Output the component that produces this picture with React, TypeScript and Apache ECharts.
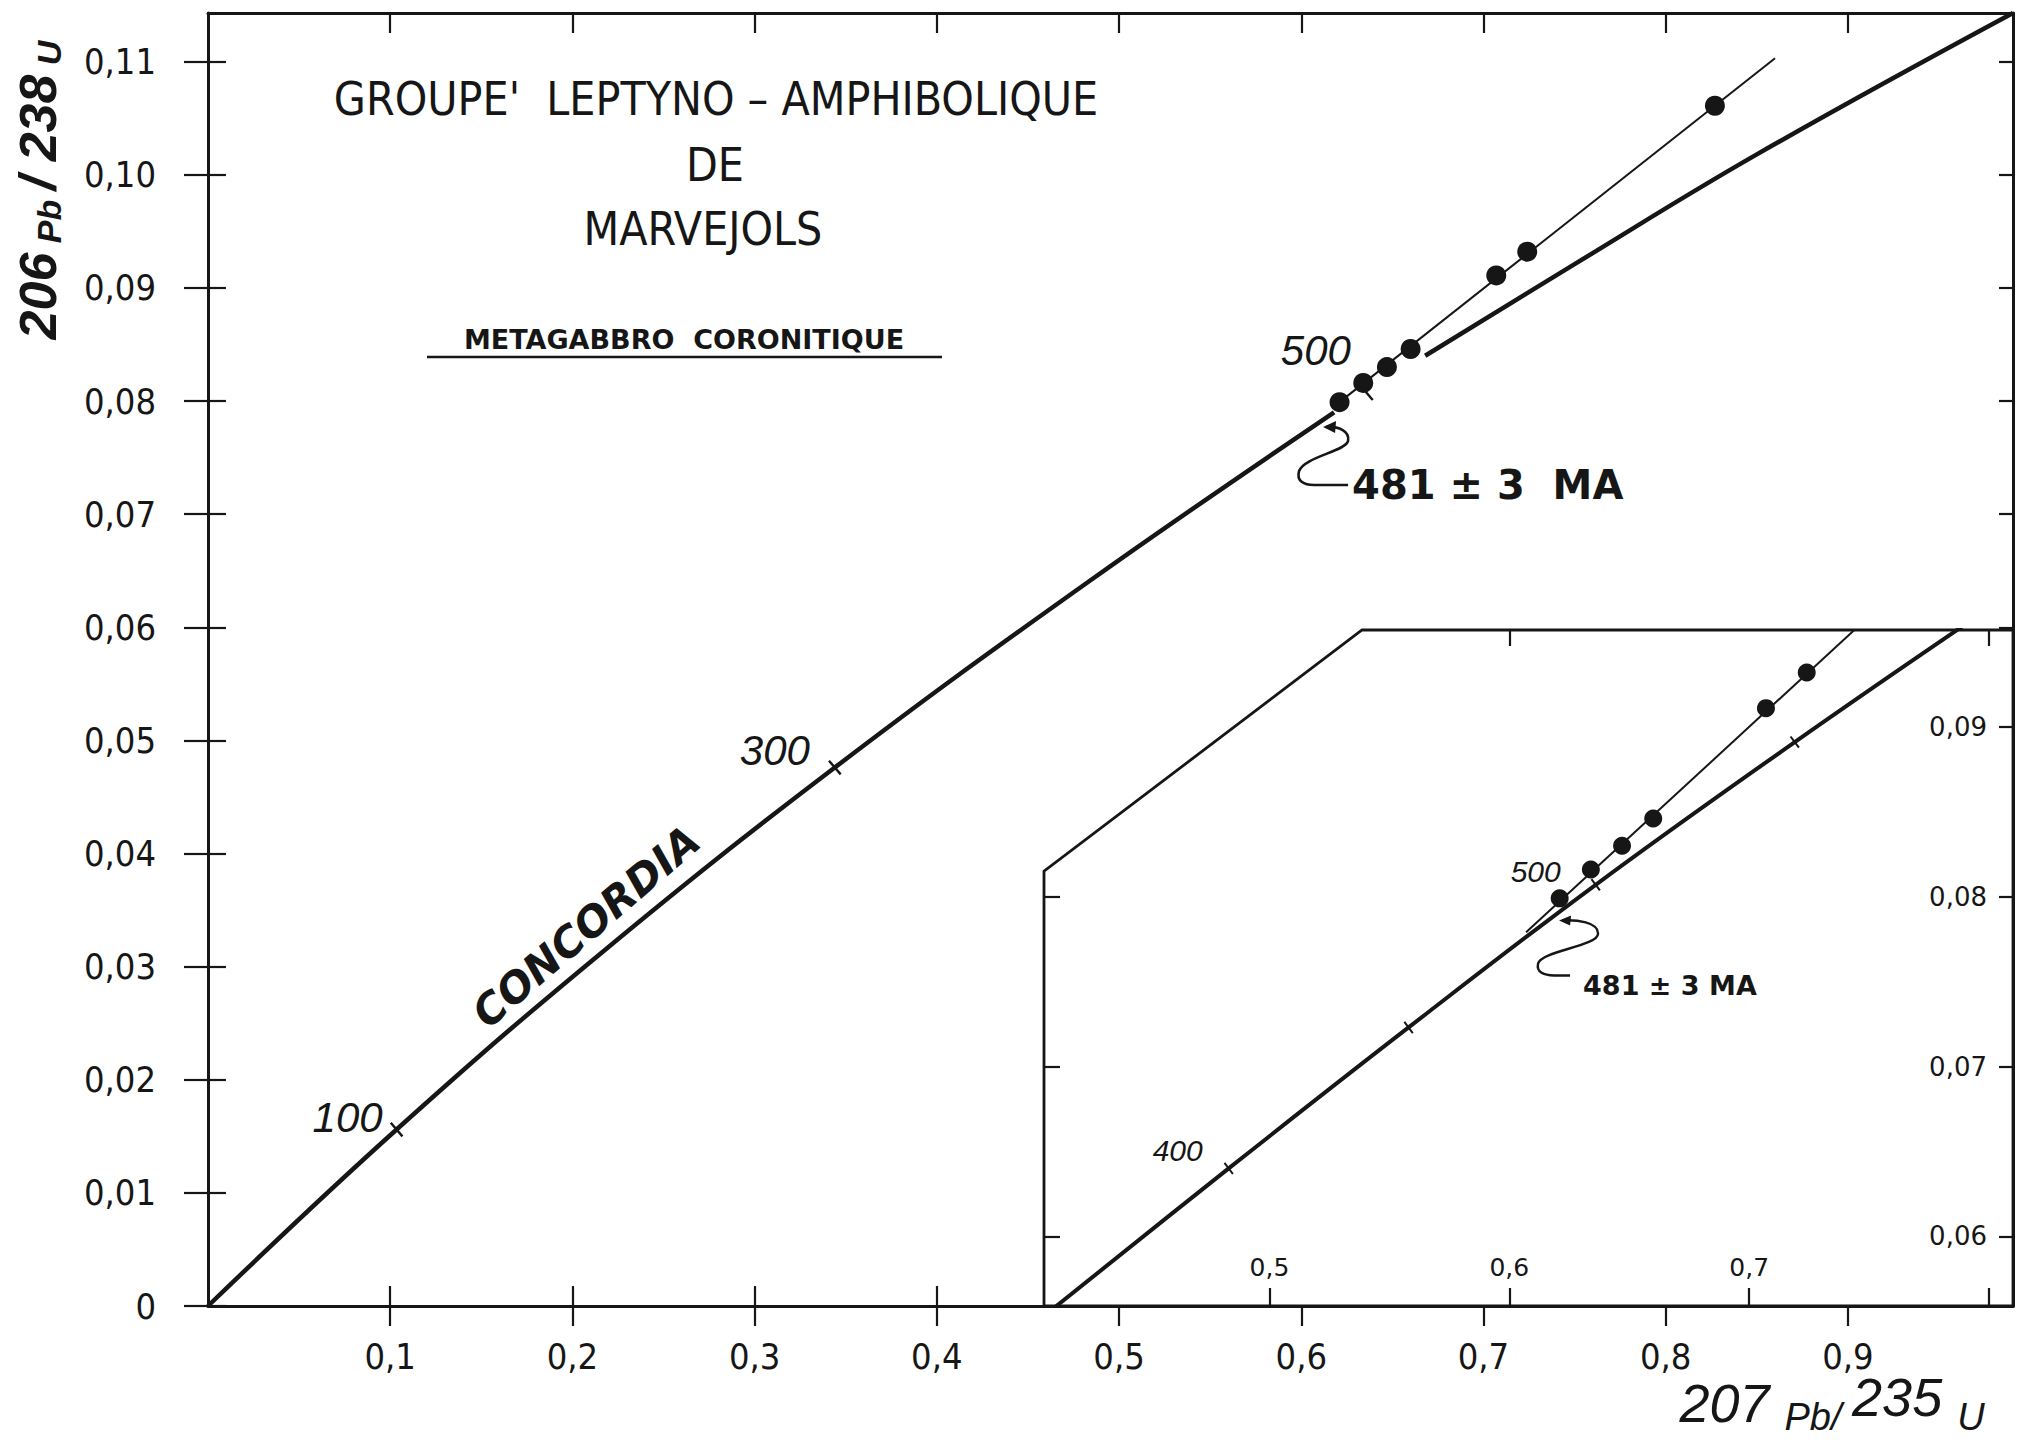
import React, { useEffect, useRef } from "react";
import * as echarts from "echarts";

// ---------- data ----------
const mainXTicks = [0.1, 0.2, 0.3, 0.4, 0.5, 0.6, 0.7, 0.8, 0.9];
const mainYTicks = [0, 0.01, 0.02, 0.03, 0.04, 0.05, 0.06, 0.07, 0.08, 0.09, 0.1, 0.11];
const insetXTicks = [0.5, 0.6, 0.7, 0.8];
const insetXLabels = [0.5, 0.6, 0.7];
const insetTopTicks = [0.6, 0.8];
const insetYTicks = [0.06, 0.07, 0.08, 0.09];
const insetLeftTicks = [0.06, 0.07, 0.08];

// analysed fractions (207Pb/235U, 206Pb/238U)
const samplePb207U235 = [0.621, 0.634, 0.647, 0.66, 0.707, 0.724, 0.827];
const samplePb206U238 = [0.0799, 0.0816, 0.083, 0.0846, 0.0911, 0.0932, 0.1061];

// concordia curve as drawn (lower part, then upper part past the gap)
const concordiaLowX = [0, 0.1035, 0.218, 0.344, 0.483, 0.618];
const concordiaLowY = [0, 0.0156, 0.0315, 0.0476, 0.064, 0.079];
const concordiaHighX = [0.668, 0.75, 0.85, 0.9906];
const concordiaHighY = [0.084, 0.0921, 0.1018, 0.1143];
// discordia in main plot
const discordiaX = [0.621, 0.86];
const discordiaY = [0.0799, 0.1103];
// age marks on the main concordia
const mainAges = ["100", "300", "500"];
const mainAgeX = [0.1035, 0.344, 0.636];
const mainAgeY = [0.0156, 0.0476, 0.0807];

// inset (enlargement)
const insetConcordiaX = [0.405, 0.483, 0.558, 0.636, 0.719, 0.795];
const insetConcordiaY = [0.0552, 0.064, 0.0723, 0.0807, 0.0891, 0.0965];
const insetDiscordiaX = [0.607, 0.75];
const insetDiscordiaY = [0.0779, 0.0965];
const insetAges = ["400", "", "500", ""];
const insetAgeX = [0.483, 0.558, 0.636, 0.719];
const insetAgeY = [0.064, 0.0723, 0.0807, 0.0891];

const interceptLabel = "481 ± 3  MA";

// ---------- axis extents ----------
const MAIN_X = [0, 0.9906];
const MAIN_Y = [0, 0.1143];
const INSET_X = [0.406, 0.81];
const INSET_Y = [0.0559, 0.0957];
// inset frame outline (cut corner) in inset data units
const frameX = [INSET_X[0], INSET_X[0], 0.5386, INSET_X[1], INSET_X[1]];
const frameY = [INSET_Y[0], 0.0815, INSET_Y[1], INSET_Y[1], INSET_Y[0]];

// annotation anchors (data units)
const arrowMainAt = [0.6136, 0.0777];
const arrowInsetAt = [0.622, 0.0786];
const concordiaWordAt = [0.218, 0.0315];

// ---------- styles ----------
const INK = "#161616";
const NARROW = "'Liberation Sans Narrow', 'DejaVu Sans Condensed', sans-serif";
const SANS = "'Liberation Sans', Arial, sans-serif";
const DEJAVU = "'DejaVu Sans', sans-serif";
const mainAgeOffsets = [[-49, -12], [-60, -17], [-51, -43]];
const insetAgeOffsets = [[-51, -18], [0, 0], [-60, -13], [0, 0]];

const fmtX = (v: number) => (v === 0 ? "0" : v.toFixed(1).replace(".", ","));
const fmtY = (v: number) => (v === 0 ? "0" : v.toFixed(2).replace(".", ","));

const zip = (xs: number[], ys: number[]) => xs.map((x, i) => [x, ys[i]]);

echarts.graphic.registerShape(
  "curlyMain",
  echarts.graphic.extendPath(
    "M0,0 C12,-1 24,4 22,14 C20,24 -22,30 -27,44 C-30,54 -22,58 -12,58 L22,58",
    {}
  )
);
echarts.graphic.registerShape(
  "curlyInset",
  echarts.graphic.extendPath(
    "M0,0 C15,-1 36,2 36,13 C36,26 -20,30 -24,43 C-26,52 -18,55 -8,55 L8,55",
    {}
  )
);

export default function App() {
  const ref = useRef<HTMLDivElement>(null);

  useEffect(() => {
    if (!ref.current) return;
    const chart = echarts.init(ref.current, null, { renderer: "svg" });

    const line = { lineStyle: { color: INK, width: 3 }, onZero: false };
    const tickStyle = { color: INK, width: 2.2 };
    const noSplit = { show: false };
    const dot = { color: INK, opacity: 1 };

    const option: any = {
      animation: false,
      backgroundColor: "#ffffff",
      grid: [
        { left: 208, top: 13, width: 1805, height: 1293 },
        { left: 1044, top: 630, width: 969, height: 676 },
      ],
      xAxis: [
        {
          gridIndex: 0, type: "value", min: MAIN_X[0], max: MAIN_X[1], position: "bottom",
          axisLine: { show: true, ...line },
          axisTick: { show: true, inside: false, length: 20, customValues: mainXTicks, lineStyle: tickStyle },
          axisLabel: { show: true, customValues: mainXTicks, formatter: fmtX, margin: 32, fontSize: 36, fontFamily: NARROW, color: INK },
          splitLine: noSplit,
        },
        {
          gridIndex: 0, type: "value", min: MAIN_X[0], max: MAIN_X[1], position: "bottom",
          axisLine: { show: false, onZero: false },
          axisTick: { show: true, inside: true, length: 20, customValues: mainXTicks, lineStyle: tickStyle },
          axisLabel: { show: false },
          splitLine: noSplit,
        },
        {
          gridIndex: 0, type: "value", min: MAIN_X[0], max: MAIN_X[1], position: "top",
          axisLine: { show: true, ...line },
          axisTick: { show: true, inside: true, length: 20, customValues: mainXTicks, lineStyle: tickStyle },
          axisLabel: { show: false },
          splitLine: noSplit,
        },
        {
          gridIndex: 1, type: "value", min: INSET_X[0], max: INSET_X[1], position: "bottom", z: 8,
          axisLine: { show: false, onZero: false },
          axisTick: { show: true, inside: true, length: 18, customValues: insetXTicks, lineStyle: tickStyle },
          axisLabel: { show: true, inside: true, customValues: insetXLabels, formatter: fmtX, margin: 26, fontSize: 25, fontFamily: DEJAVU, color: INK },
          splitLine: noSplit,
        },
        {
          gridIndex: 1, type: "value", min: INSET_X[0], max: INSET_X[1], position: "top", z: 8,
          axisLine: { show: false, onZero: false },
          axisTick: { show: true, inside: true, length: 16, customValues: insetTopTicks, lineStyle: tickStyle },
          axisLabel: { show: false },
          splitLine: noSplit,
        },
      ],
      yAxis: [
        {
          gridIndex: 0, type: "value", min: MAIN_Y[0], max: MAIN_Y[1], position: "left",
          axisLine: { show: true, ...line },
          axisTick: { show: true, inside: false, length: 24, customValues: mainYTicks, lineStyle: tickStyle },
          axisLabel: { show: true, customValues: mainYTicks, formatter: fmtY, margin: 52, fontSize: 36, fontFamily: NARROW, color: INK },
          splitLine: noSplit,
        },
        {
          gridIndex: 0, type: "value", min: MAIN_Y[0], max: MAIN_Y[1], position: "left",
          axisLine: { show: false, onZero: false },
          axisTick: { show: true, inside: true, length: 18, customValues: mainYTicks, lineStyle: tickStyle },
          axisLabel: { show: false },
          splitLine: noSplit,
        },
        {
          gridIndex: 0, type: "value", min: MAIN_Y[0], max: MAIN_Y[1], position: "right",
          axisLine: { show: true, ...line },
          axisTick: { show: true, inside: true, length: 14, customValues: mainYTicks, lineStyle: tickStyle },
          axisLabel: { show: false },
          splitLine: noSplit,
        },
        {
          gridIndex: 1, type: "value", min: INSET_Y[0], max: INSET_Y[1], position: "right", z: 8,
          axisLine: { show: false, onZero: false },
          axisTick: { show: true, inside: true, length: 14, customValues: insetYTicks, lineStyle: tickStyle },
          axisLabel: { show: true, inside: true, customValues: insetYTicks, formatter: fmtY, margin: 26, fontSize: 26, fontFamily: DEJAVU, color: INK },
          splitLine: noSplit,
        },
        {
          gridIndex: 1, type: "value", min: INSET_Y[0], max: INSET_Y[1], position: "left", z: 8,
          axisLine: { show: false, onZero: false },
          axisTick: { show: true, inside: true, length: 16, customValues: insetLeftTicks, lineStyle: tickStyle },
          axisLabel: { show: false },
          splitLine: noSplit,
        },
      ],
      series: [
        {
          type: "line", xAxisIndex: 0, yAxisIndex: 0, z: 2, showSymbol: false, symbol: "none", smooth: 0.4,
          data: zip(concordiaLowX, concordiaLowY), lineStyle: { color: INK, width: 4.5 }, silent: true,
        },
        {
          type: "line", xAxisIndex: 0, yAxisIndex: 0, z: 2, showSymbol: false, symbol: "none", smooth: 0.4,
          data: zip(concordiaHighX, concordiaHighY), lineStyle: { color: INK, width: 4.5 }, silent: true,
        },
        {
          type: "line", xAxisIndex: 0, yAxisIndex: 0, z: 2, showSymbol: false, symbol: "none",
          data: zip(discordiaX, discordiaY), lineStyle: { color: INK, width: 2 }, silent: true,
        },
        {
          type: "scatter", xAxisIndex: 0, yAxisIndex: 0, z: 3, symbol: "circle", symbolSize: 20,
          itemStyle: dot, data: zip(samplePb207U235, samplePb206U238),
        },
        {
          type: "scatter", xAxisIndex: 0, yAxisIndex: 0, z: 3, symbol: "rect", symbolSize: [2.4, 18], symbolRotate: 40.6,
          itemStyle: dot,
          data: mainAgeX.map((x, i) => ({ value: [x, mainAgeY[i]], label: { offset: mainAgeOffsets[i] } })),
          label: {
            show: true, position: "inside", formatter: (p: any) => mainAges[p.dataIndex],
            fontSize: 42, fontStyle: "italic", fontFamily: SANS, color: INK, opacity: 1,
          },
        },
        {
          type: "custom", xAxisIndex: 3, yAxisIndex: 3, z: 5, silent: true,
          data: [[frameX[0], frameY[0]]],
          renderItem: (_p: any, api: any) => ({
            type: "polygon",
            shape: { points: frameX.map((x, i) => api.coord([x, frameY[i]])) },
            style: { fill: "#ffffff", stroke: INK, lineWidth: 2.8 },
          }),
        },
        {
          type: "line", xAxisIndex: 3, yAxisIndex: 3, z: 6, showSymbol: false, symbol: "none", smooth: 0.4,
          data: zip(insetConcordiaX, insetConcordiaY), lineStyle: { color: INK, width: 4 }, silent: true,
        },
        {
          type: "line", xAxisIndex: 3, yAxisIndex: 3, z: 6, showSymbol: false, symbol: "none",
          data: zip(insetDiscordiaX, insetDiscordiaY), lineStyle: { color: INK, width: 2 }, silent: true,
        },
        {
          type: "scatter", xAxisIndex: 3, yAxisIndex: 3, z: 7, symbol: "circle", symbolSize: 18, clip: true,
          itemStyle: dot, data: zip(samplePb207U235, samplePb206U238),
        },
        {
          type: "scatter", xAxisIndex: 3, yAxisIndex: 3, z: 7, symbol: "rect", symbolSize: [2, 14], symbolRotate: 37,
          itemStyle: dot,
          data: insetAgeX.map((x, i) => ({ value: [x, insetAgeY[i]], label: { offset: insetAgeOffsets[i] } })),
          label: {
            show: true, position: "inside", formatter: (p: any) => insetAges[p.dataIndex],
            fontSize: 30, fontStyle: "italic", fontFamily: SANS, color: INK, opacity: 1,
          },
        },
      ],
    };

    chart.setOption(option);

    const px = (si: number, v: number[]) => chart.convertToPixel({ seriesIndex: si }, v) as number[];
    const tipM = px(0, arrowMainAt);
    const tipI = px(6, arrowInsetAt);
    const cw = px(0, concordiaWordAt);

    const T = (x: number, y: number, text: string, s: any) => ({
      type: "text", x, y, z: 20,
      style: { text, fill: INK, align: "center", verticalAlign: "middle", ...s },
    });

    const graphic: any[] = [
      T(716, 99, "GROUPE'  LEPTYNO – AMPHIBOLIQUE", { fontSize: 46, fontFamily: NARROW }),
      T(715, 165, "DE", { fontSize: 46, fontFamily: NARROW }),
      T(703, 229, "MARVEJOLS", { fontSize: 46, fontFamily: NARROW }),
      T(684, 339, "METAGABBRO  CORONITIQUE", { fontSize: 27, fontWeight: "bold", fontFamily: DEJAVU }),
      { type: "line", z: 20, shape: { x1: 427, y1: 357, x2: 942, y2: 357 }, style: { stroke: INK, lineWidth: 2.5 } },
      {
        type: "text", x: 38, y: 190, z: 20, rotation: Math.PI / 2,
        style: {
          text: "{n|206}{s| Pb }{n|/ 238}{s| U}", fill: INK, align: "center", verticalAlign: "middle",
          rich: {
            n: { fontSize: 52, fontWeight: "bold", fontStyle: "italic", fontFamily: SANS, lineHeight: 56, fill: INK },
            s: { fontSize: 34, fontWeight: "bold", fontStyle: "italic", fontFamily: SANS, lineHeight: 26, verticalAlign: "bottom", fill: INK },
          },
        },
      },
      {
        type: "text", x: 1832, y: 1403, z: 20,
        style: {
          text: "{n|207 }{s|Pb/ }{t|235 }{s|U}", fill: INK, align: "center", verticalAlign: "middle",
          rich: {
            n: { fontSize: 54, fontStyle: "italic", fontFamily: SANS, lineHeight: 66, fill: INK },
            t: { fontSize: 54, fontStyle: "italic", fontFamily: SANS, lineHeight: 54, verticalAlign: "top", fill: INK },
            s: { fontSize: 38, fontStyle: "italic", fontFamily: SANS, lineHeight: 36, verticalAlign: "bottom", fill: INK },
          },
        },
      },
      {
        type: "text", x: cw[0] - 19, y: cw[1] - 23, z: 20, rotation: (40.6 * Math.PI) / 180,
        style: { text: "CONCORDIA", fill: INK, align: "center", verticalAlign: "middle", fontSize: 42, fontWeight: "bold", fontStyle: "italic", fontFamily: DEJAVU },
      },
      { type: "curlyMain", x: tipM[0], y: tipM[1], z: 20, style: { stroke: INK, lineWidth: 2.6, fill: "none" } },
      { type: "polygon", x: tipM[0], y: tipM[1], z: 20, shape: { points: [[-3, 0], [10, -6], [9, 6]] }, style: { fill: INK } },
      {
        type: "text", x: tipM[0] + 26, y: tipM[1] + 58, z: 20,
        style: { text: interceptLabel, fill: INK, align: "left", verticalAlign: "middle", fontSize: 40, fontWeight: "bold", fontFamily: DEJAVU },
      },
      { type: "curlyInset", x: tipI[0], y: tipI[1], z: 20, style: { stroke: INK, lineWidth: 2.4, fill: "none" } },
      { type: "polygon", x: tipI[0], y: tipI[1], z: 20, shape: { points: [[-3, 0], [9, -5], [8, 5]] }, style: { fill: INK } },
      {
        type: "text", x: tipI[0] + 21, y: tipI[1] + 65, z: 20,
        style: { text: "481 ± 3 MA", fill: INK, align: "left", verticalAlign: "middle", fontSize: 27, fontWeight: "bold", fontFamily: DEJAVU },
      },
    ];

    chart.setOption({ graphic });

    return () => chart.dispose();
  }, []);

  return (
    <div
      ref={ref}
      style={{ position: "absolute", left: 0, top: 0, width: 2019, height: 1447, background: "#fff" }}
    />
  );
}
